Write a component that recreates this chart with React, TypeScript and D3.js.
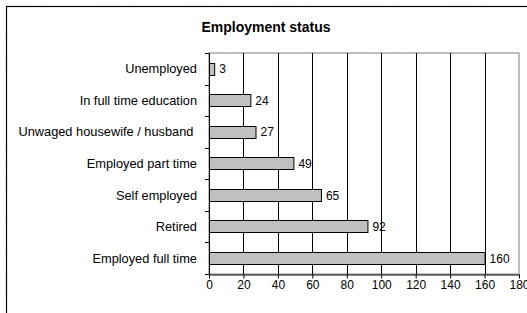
import React, { useEffect, useRef } from "react";
import * as d3 from "d3";

const categories = [
  "Unemployed",
  "In full time education",
  "Unwaged housewife / husband ",
  "Employed part time",
  "Self employed",
  "Retired",
  "Employed full time",
];
const values = [3, 24, 27, 49, 65, 92, 160];
const xTicks = [0, 20, 40, 60, 80, 100, 120, 140, 160, 180];
const title = "Employment status";

const App: React.FC = () => {
  const svgRef = useRef<SVGSVGElement>(null);

  useEffect(() => {
    document.body.style.margin = "0";
    if (!svgRef.current) return;
    const W = 527, H = 313;
    const left = 209, right = 519, top = 53, bottom = 274;
    const font = "'Liberation Sans', Arial, sans-serif";

    const root = d3.select(svgRef.current);
    root.selectAll("*").remove();
    root.attr("width", W).attr("height", H);

    // dotted background
    const defs = root.append("defs");
    const pat = defs.append("pattern")
      .attr("id", "dots").attr("patternUnits", "userSpaceOnUse")
      .attr("width", 11).attr("height", 10.7);
    pat.append("rect").attr("x", 5).attr("y", 5).attr("width", 1.4).attr("height", 1.4)
      .attr("fill", "#f7f7d6");

    root.append("rect").attr("width", W).attr("height", H).attr("fill", "#fff");
    root.append("rect").attr("width", W).attr("height", H).attr("fill", "url(#dots)");

    // chart border
    root.append("rect")
      .attr("x", 6.5).attr("y", 6.5).attr("width", W + 20).attr("height", H + 20)
      .attr("fill", "none").attr("stroke", "#000").attr("stroke-width", 1.2);

    // title
    root.append("text")
      .attr("x", 266).attr("y", 32)
      .attr("text-anchor", "middle")
      .attr("font-family", font).attr("font-size", 14).attr("font-weight", "bold")
      .text(title);

    const x = d3.scaleLinear().domain([0, 180]).range([left, right]);
    const y = d3.scaleBand().domain(categories).range([top, bottom]).paddingInner(0.61).paddingOuter(0.305);

    // plot area
    root.append("rect")
      .attr("x", left).attr("y", top).attr("width", right - left).attr("height", bottom - top)
      .attr("fill", "#fff").attr("stroke", "#808080");

    // grid lines
    root.append("g").selectAll("line")
      .data(xTicks.slice(1, -1))
      .join("line")
      .attr("x1", d => Math.round(x(d)) + 0.5).attr("x2", d => Math.round(x(d)) + 0.5)
      .attr("y1", top).attr("y2", bottom)
      .attr("stroke", "#000");

    // bars
    root.append("g").selectAll("rect")
      .data(values)
      .join("rect")
      .attr("x", x(0) + 0.5)
      .attr("y", (d, i) => Math.round(y(categories[i])!) + 0.5)
      .attr("width", d => x(d) - x(0))
      .attr("height", Math.round(y.bandwidth()))
      .attr("fill", "#c0c0c0")
      .attr("stroke", "#000");

    // value labels
    root.append("g").selectAll("text")
      .data(values)
      .join("text")
      .attr("x", d => x(d) + 5)
      .attr("y", (d, i) => y(categories[i])! + y.bandwidth() / 2 + 4.5)
      .attr("font-family", font).attr("font-size", 12)
      .text(d => d);

    // y axis
    const yStep = (bottom - top) / categories.length;
    const yAxis = root.append("g");
    yAxis.append("line")
      .attr("x1", left + 0.5).attr("x2", left + 0.5).attr("y1", top).attr("y2", bottom)
      .attr("stroke", "#000");
    yAxis.selectAll("line.t")
      .data(d3.range(categories.length + 1))
      .join("line").attr("class", "t")
      .attr("x1", left - 4).attr("x2", left)
      .attr("y1", i => Math.round(top + i * yStep) + 0.5)
      .attr("y2", i => Math.round(top + i * yStep) + 0.5)
      .attr("stroke", "#000");
    yAxis.selectAll("text")
      .data(categories)
      .join("text")
      .attr("x", 197)
      .attr("y", d => y(d)! + y.bandwidth() / 2 + 4.5)
      .attr("text-anchor", "end")
      .style("white-space", "pre")
      .attr("font-family", font).attr("font-size", 12.8)
      .text(d => d);

    // x axis
    const xAxis = root.append("g").attr("transform", `translate(0,${bottom + 0.5})`)
      .call(d3.axisBottom(x).tickValues(xTicks).tickSize(4).tickSizeOuter(0).tickFormat(d => `${d}`));
    xAxis.select(".domain").attr("stroke", "#000");
    xAxis.selectAll(".tick line").attr("stroke", "#000");
    xAxis.selectAll(".tick text")
      .attr("fill", "#000").attr("font-family", font).attr("font-size", 12).attr("dy", null).attr("y", 14.5);
  }, []);

  return <svg ref={svgRef} style={{ display: "block" }} />;
};

export default App;
